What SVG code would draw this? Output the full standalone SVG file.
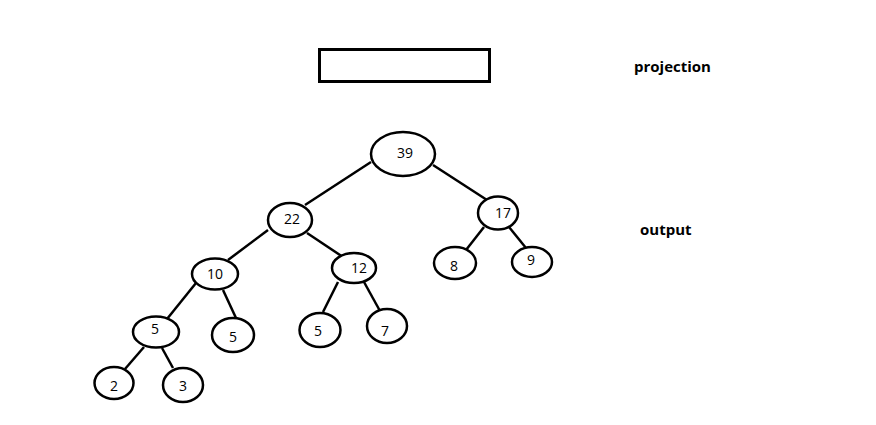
<svg xmlns="http://www.w3.org/2000/svg" width="876" height="425" viewBox="0 0 876 425">
<style>
.n{fill:#fff;stroke:#000;stroke-width:2.5}
.t{font-family:"Open Sans","Noto Sans",sans-serif;font-size:14px;fill:#000;text-anchor:middle}
.e{stroke:#000;stroke-width:2.5;fill:none}
.lbl{font-family:"Open Sans","Noto Sans",sans-serif;font-size:15px;font-weight:bold;fill:#000}
</style>
<rect x="0" y="0" width="876" height="425" fill="#fff"/>
<g id="projection-box"><rect x="319.5" y="49.5" width="170" height="32" fill="#fff" stroke="#000" stroke-width="3"/></g>
<text class="lbl" x="634" y="72">projection</text>
<text class="lbl" x="640" y="235">output</text>
<g id="edges">
<line class="e" x1="371" y1="162" x2="305" y2="205"/>
<line class="e" x1="433" y1="165" x2="487" y2="200"/>
<line class="e" x1="268" y1="230" x2="228" y2="260"/>
<line class="e" x1="307" y1="233" x2="343" y2="257"/>
<line class="e" x1="196" y1="283" x2="167" y2="319"/>
<line class="e" x1="223" y1="290" x2="236" y2="318"/>
<line class="e" x1="338" y1="282" x2="323" y2="312"/>
<line class="e" x1="364" y1="282" x2="380" y2="311"/>
<line class="e" x1="144" y1="347" x2="125" y2="369"/>
<line class="e" x1="162" y1="348" x2="173" y2="368"/>
<line class="e" x1="484" y1="227" x2="466" y2="250"/>
<line class="e" x1="509" y1="227" x2="526" y2="248"/>
</g>
<g id="n39"><ellipse class="n" cx="403" cy="154" rx="32" ry="22"/><text class="t" x="405" y="158">39</text></g>
<g id="n22"><ellipse class="n" cx="290" cy="220" rx="22" ry="17"/><text class="t" x="292" y="224">22</text></g>
<g id="n17"><ellipse class="n" cx="498" cy="213" rx="20" ry="16.5"/><text class="t" x="503" y="218">17</text></g>
<g id="n10"><ellipse class="n" cx="215" cy="274" rx="23" ry="15.5"/><text class="t" x="215" y="279">10</text></g>
<g id="n12"><ellipse class="n" cx="354" cy="268" rx="22" ry="15"/><text class="t" x="359" y="273">12</text></g>
<g id="n8"><ellipse class="n" cx="455" cy="263" rx="21" ry="16"/><text class="t" x="454" y="271">8</text></g>
<g id="n9"><ellipse class="n" cx="532" cy="262" rx="20" ry="15"/><text class="t" x="531" y="265">9</text></g>
<g id="n5a"><ellipse class="n" cx="156" cy="332" rx="23" ry="15.5"/><text class="t" x="155" y="334">5</text></g>
<g id="n5b"><ellipse class="n" cx="233" cy="335" rx="21" ry="17"/><text class="t" x="233" y="342">5</text></g>
<g id="n5c"><ellipse class="n" cx="320" cy="330" rx="20.5" ry="17"/><text class="t" x="318" y="336">5</text></g>
<g id="n7"><ellipse class="n" cx="387" cy="326" rx="20" ry="17"/><text class="t" x="385" y="336">7</text></g>
<g id="n2"><ellipse class="n" cx="114" cy="383" rx="19.5" ry="16"/><text class="t" x="114" y="391">2</text></g>
<g id="n3"><ellipse class="n" cx="183" cy="385" rx="20" ry="17"/><text class="t" x="183" y="391">3</text></g>
</svg>
